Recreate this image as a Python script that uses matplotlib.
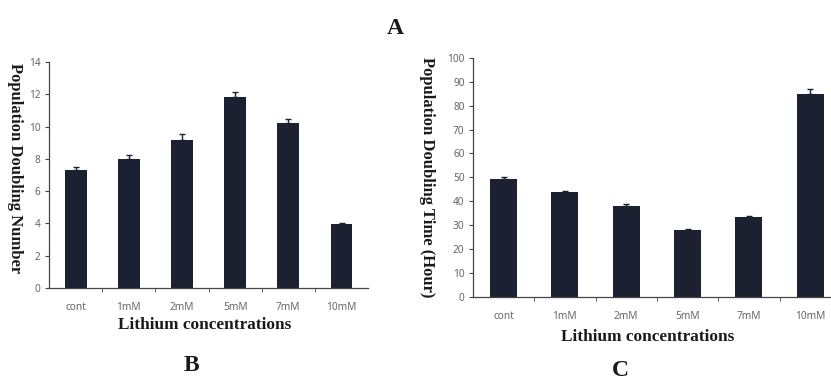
import numpy as np
import matplotlib
matplotlib.use("Agg")
import matplotlib.pyplot as plt

categories = ["cont", "1mM", "2mM", "5mM", "7mM", "10mM"]

# B: population doubling number
pdn_values = [7.3, 8.0, 9.2, 11.85, 10.2, 3.95]
pdn_err = [0.2, 0.25, 0.35, 0.3, 0.3, 0.1]

# C: population doubling time (hour)
pdt_values = [49.3, 44.0, 38.0, 28.0, 33.5, 85.0]
pdt_err = [0.8, 0.4, 0.7, 0.4, 0.4, 2.0]

bar_color = "#1b2130"
serif = ["Liberation Serif", "DejaVu Serif"]
sans = ["Noto Sans", "DejaVu Sans"]

fig = plt.figure(figsize=(8.31, 3.83), dpi=100)


def draw_panel(ax, values, err, ymax, ystep, ylabel, width):
    x = np.arange(len(categories))
    ax.bar(x, values, width, color=bar_color, zorder=2)
    ax.errorbar(x, values, yerr=[np.zeros(len(err)), err], fmt="none",
                ecolor=bar_color, elinewidth=1.0, capsize=2.5, capthick=1.0, zorder=3)
    ax.set_xlim(-0.5, len(categories) - 0.5)
    ax.set_ylim(0, ymax)
    ax.set_yticks(np.arange(0, ymax + ystep / 2, ystep))
    ax.set_xticks(x)
    ax.set_xticklabels(categories)
    ax.set_xticks(np.arange(0.5, len(categories) - 0.5, 1.0), minor=True)
    ax.tick_params(axis="x", which="major", length=0, pad=10, labelsize=7.3, labelcolor="#666666")
    ax.tick_params(axis="x", which="minor", length=3, direction="out", color="#444444")
    ax.tick_params(axis="y", length=3, direction="out", labelsize=7.3, labelcolor="#666666",
                   color="#444444", pad=3)
    for lab in ax.get_xticklabels() + ax.get_yticklabels():
        lab.set_family(sans)
    for s in ["top", "right"]:
        ax.spines[s].set_visible(False)
    for s in ["left", "bottom"]:
        ax.spines[s].set_color("#444444")
        ax.spines[s].set_linewidth(0.9)
    ax.set_ylabel(ylabel, rotation=270, fontsize=12, fontweight="bold",
                  family=serif, va="center", ha="center", color="#1a1a1a")
    ax.set_xlabel("Lithium concentrations", fontsize=12.4, fontweight="bold",
                  family=serif, va="center", ha="center", color="#1a1a1a")


ax_b = fig.add_axes([0.059, 0.248, 0.384, 0.59])
draw_panel(ax_b, pdn_values, pdn_err, 14, 2, "Population Doubling Number", 0.41)
ax_b.yaxis.set_label_coords(-0.106, 0.53)
ax_b.xaxis.set_label_coords(0.487, -0.165)

ax_c = fig.add_axes([0.569, 0.225, 0.443, 0.624])
draw_panel(ax_c, pdt_values, pdt_err, 100, 10, "Population Doubling Time (Hour)", 0.44)
ax_c.yaxis.set_label_coords(-0.124, 0.5)
ax_c.xaxis.set_label_coords(0.476, -0.168)

fig.text(0.476, 0.925, "A", fontsize=17, fontweight="bold", family=serif,
         ha="center", va="center", color="#1a1a1a")
fig.text(0.230, 0.045, "B", fontsize=17, fontweight="bold", family=serif,
         ha="center", va="center", color="#1a1a1a")
fig.text(0.746, 0.033, "C", fontsize=17, fontweight="bold", family=serif,
         ha="center", va="center", color="#1a1a1a")

fig.savefig("out.png", dpi=100)
